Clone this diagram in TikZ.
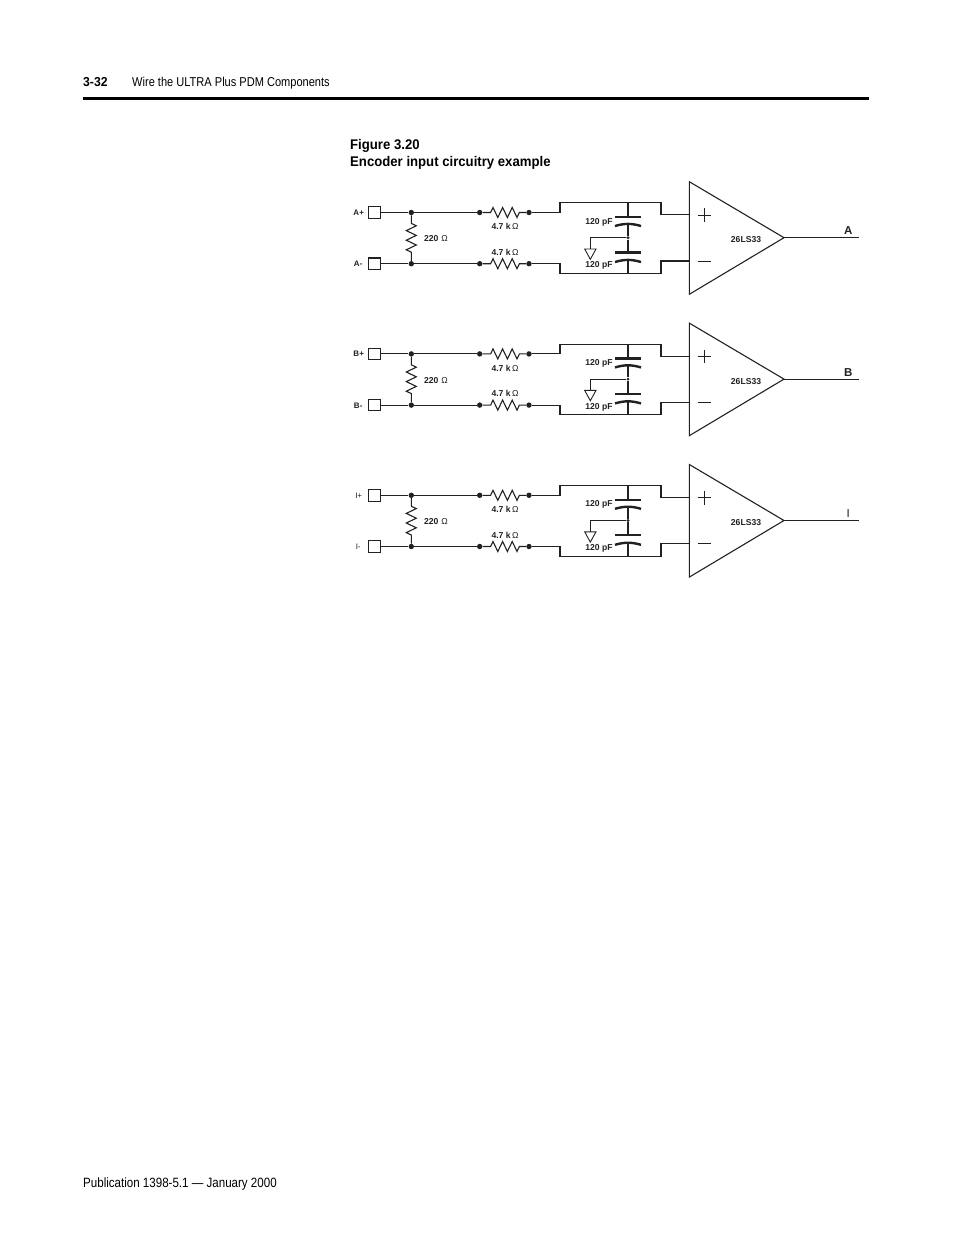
\documentclass[tikz,border=0pt]{standalone}
\usepackage{fontspec}
\setmainfont{Liberation Sans}
\newfontfamily\pagefont[FakeStretch=0.86]{Liberation Sans}
\newfontfamily\titlefont[FakeStretch=0.94]{Liberation Sans}
\usetikzlibrary{decorations.pathmorphing}
\definecolor{ink}{gray}{0.13}
\tikzset{
    wire/.style={draw=ink, line width=1.1pt},
    plate/.style={draw=ink, line width=2.4pt},
    res/.style={wire, decorate, decoration={zigzag, amplitude=5pt, segment length=9.6pt, pre length=8pt, post length=6pt}},
    dot/.style={circle, fill=ink, inner sep=0pt, minimum size=5.4pt},
    tiny dot/.style={circle, fill=ink, inner sep=0pt, minimum size=3.2pt},
    pad/.style={draw=ink, line width=1.1pt, inner sep=0pt, minimum size=11.5pt},
    lbl/.style={inner sep=0pt, text=ink, font=\fontsize{8.6}{10}\selectfont\bfseries},
    pagetext/.style={inner sep=0pt, anchor=west, text=black, font=\pagefont\fontsize{12.85}{14}\selectfont},
    pagebold/.style={pagetext, font=\titlefont\fontsize{14}{16}\selectfont\bfseries}
}
\newcommand{\ohm}{{\mdseries Ω}}
\begin{document}
\begin{tikzpicture}[x=1pt, y=-1pt]
    \useasboundingbox (0,0) rectangle (954,1235);
    \node[pagebold, font=\titlefont\fontsize{13}{14}\selectfont\bfseries] (pageno) at (83,82.5) {3-32};
    \node[pagetext] (head) at (132,83) {Wire the ULTRA Plus PDM Components};
    \coordinate (ruleL) at (83,98.5);
    \coordinate (ruleR) at (869,98.5);
    \draw[line width=3pt] (ruleL) -- (ruleR);
    \node[pagebold] (figno) at (350,145.5) {Figure 3.20};
    \node[pagebold] (figtitle) at (350,162.5) {Encoder input circuitry example};
    \node[pagetext, font=\pagefont\fontsize{13.45}{15}\selectfont] (foot) at (83,1184) {Publication 1398-5.1 — January 2000};

    \foreach \i/\sig/\pl/\mn/\outlbl in {0/A/A+/A-/A, 1/B/B+/B-/B, 2/I/{\mdseries I+}/{\mdseries I-}/{\mdseries I}} {
    \begin{scope}[yshift={-141.4pt*\i}]
        % inputs
        \node[pad] (tp\sig) at (374.5,212.5) {};
        \node[pad] (tm\sig) at (374.5,263.7) {};
        \node[lbl, font=\fontsize{8}{10}\selectfont\bfseries] (lp\sig) at (358.7,212.7) {\pl};
        \node[lbl, font=\fontsize{8}{10}\selectfont\bfseries] (lm\sig) at (358.2,264.2) {\mn};
        \node[dot] (jp\sig) at (411.3,212.5) {};
        \node[dot] (jm\sig) at (411.3,263.7) {};
        \node[dot] (ap\sig) at (479.7,212.5) {};
        \node[dot] (am\sig) at (479.7,263.7) {};
        \node[dot] (bp\sig) at (529,212.5) {};
        \node[dot] (bm\sig) at (529,263.7) {};
        \draw[wire] (tp\sig) -- (jp\sig) -- (ap\sig);
        \draw[wire] (tm\sig) -- (jm\sig) -- (am\sig);
        \draw[res] (jp\sig) -- (jm\sig);
        \draw[res] (ap\sig) -- (bp\sig);
        \draw[res] (am\sig) -- (bm\sig);
        \node[lbl] (rt\sig) at (436,238.8) {220\hspace{3pt}\ohm};
        \node[lbl] (ru\sig) at (505,226.5) {4.7 k\,\ohm};
        \node[lbl] (rd\sig) at (505,252.3) {4.7 k\,\ohm};
        % filter
        \coordinate (s1\sig) at (560,212.5);
        \coordinate (s2\sig) at (560,202.7);
        \coordinate (s3\sig) at (661,202.7);
        \coordinate (s4\sig) at (661,214.8);
        \coordinate (d1\sig) at (560,263.7);
        \coordinate (d2\sig) at (560,273.3);
        \coordinate (d3\sig) at (661,273.3);
        \coordinate (d4\sig) at (661,261);
        \coordinate (inp\sig) at (689.3,214.8);
        \coordinate (inm\sig) at (689.3,261);
        \draw[wire] (bp\sig) -- (s1\sig) -- (s2\sig) -- (s3\sig) -- (s4\sig) -- (inp\sig);
        \draw[wire] (bm\sig) -- (d1\sig) -- (d2\sig) -- (d3\sig) -- (d4\sig) -- (inm\sig);
        \coordinate (ct\sig) at (628,202.7);
        \coordinate (cb\sig) at (628,273.3);
        \node[tiny dot] (cm\sig) at (628,237.7) {};
        \coordinate (p1\sig) at (628,217);
        \coordinate (p2\sig) at (628,223);
        \coordinate (p3\sig) at (628,252.3);
        \coordinate (p4\sig) at (628,259);
        \draw[wire] (ct\sig) -- (p1\sig);
        \draw[wire] (p2\sig) -- (cm\sig) -- (p3\sig);
        \draw[wire] (p4\sig) -- (cb\sig);
        \draw[plate] (615,217) -- (641,217);
        \draw[plate] (615,226) to[bend left=16] (641,226);
        \draw[plate] (615,252.3) -- (641,252.3);
        \draw[plate] (615,262) to[bend left=16] (641,262);
        \node[lbl] (cu\sig) at (599,222) {120 pF};
        \node[lbl] (cd\sig) at (599,265.5) {120 pF};
        % ground
        \coordinate (g1\sig) at (590.3,237.7);
        \coordinate (g2\sig) at (590.3,249);
        \draw[wire] (cm\sig) -- (g1\sig) -- (g2\sig);
        \draw[draw=ink, line width=0.9pt] (584.7,249) -- (596,249) -- (590.3,259.3) -- cycle;
        % amplifier
        \coordinate (ampa\sig) at (689.3,181.7);
        \coordinate (ampb\sig) at (689.3,294.3);
        \coordinate (ampo\sig) at (784,237.7);
        \coordinate (out\sig) at (859.3,237.7);
        \draw[wire] (ampa\sig) -- (ampo\sig) -- (ampb\sig) -- cycle;
        \draw[wire] (ampo\sig) -- (out\sig);
        \draw[draw=ink, line width=0.8pt] (697.5,215) -- (711,215) (704.2,208.3) -- (704.2,221.7);
        \draw[draw=ink, line width=0.8pt] (697.5,261) -- (711,261);
        \node[lbl] (ic\sig) at (746,239.8) {26LS33};
        \node[lbl, font=\fontsize{11.5}{12}\selectfont\bfseries] (ol\sig) at (848.3,230.8) {\outlbl};
    \end{scope}
    }
\end{tikzpicture}
\end{document}
